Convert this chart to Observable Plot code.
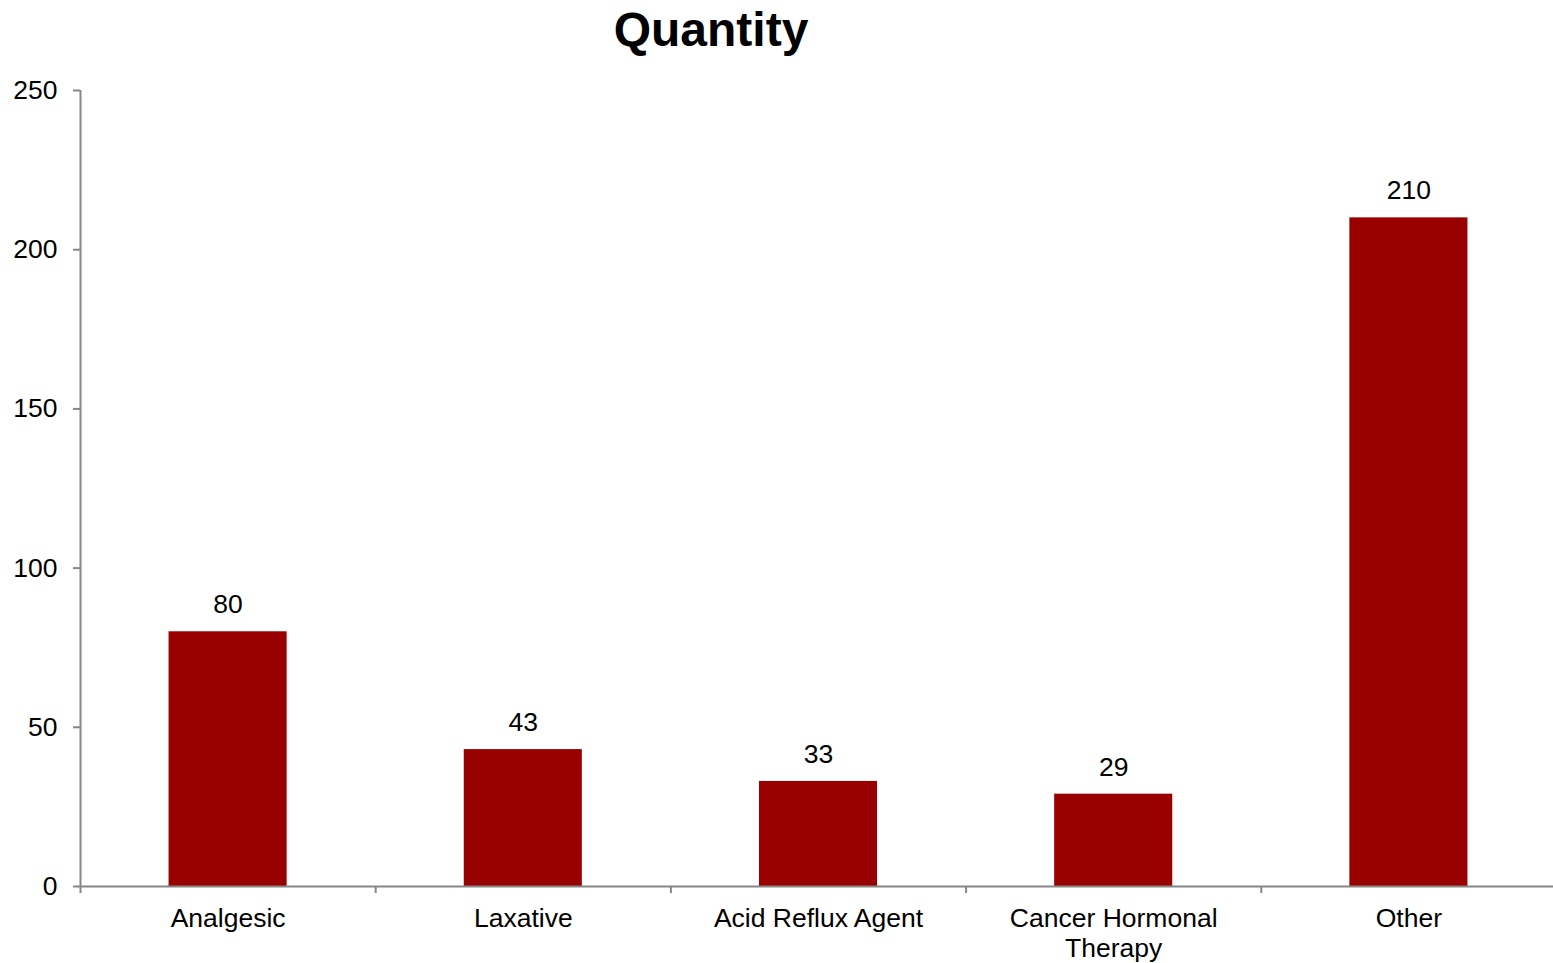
<!DOCTYPE html>
<html><head><meta charset="utf-8">
<script src="https://cdn.jsdelivr.net/npm/d3@7"></script>
<script src="https://cdn.jsdelivr.net/npm/@observablehq/plot@0.6"></script>
<style>
body{margin:0;background:#fff;font-family:"Liberation Sans",Arial,sans-serif;}
#wrap{position:relative;width:1553px;height:963px;overflow:hidden;}
#title{position:absolute;left:0;top:6px;width:1422px;text-align:center;font-size:48px;font-weight:bold;line-height:48px;color:#000;}
#chart{position:absolute;left:0;top:60px;width:1556px;}
</style></head><body>
<div id="wrap"><div id="title">Quantity</div><div id="chart"></div></div>
<script>
const categories = ["Analgesic", "Laxative", "Acid Reflux Agent", "Cancer Hormonal Therapy", "Other"];
const quantities = [80, 43, 33, 29, 210];
const yTicks = [0, 50, 100, 150, 200, 250];

const data = categories.map((c, i) => ({category: c, index: i, value: quantities[i]}));
const gray = "#868686";

const plot = Plot.plot({
  width: 1556, height: 903,
  marginTop: 30, marginBottom: 77, marginLeft: 80, marginRight: 0,
  style: {fontFamily: "'Liberation Sans', Arial, sans-serif", fontSize: "26.5px", color: "#000", background: "#fff", overflow: "visible", maxWidth: "none"},
  x: {type: "linear", domain: [0, categories.length]},
  y: {domain: [0, 250]},
  marks: [
    Plot.rectY(data, {x1: d => d.index + 0.3, x2: d => d.index + 0.7, y: "value", fill: "#990000"}),
    Plot.ruleX([0], {stroke: gray, strokeWidth: 2}),
    Plot.ruleY([0], {stroke: gray, strokeWidth: 2}),
    Plot.axisY({ticks: yTicks, tickSize: 7, tickPadding: 16, stroke: gray, strokeWidth: 2, label: null}),
    Plot.axisX({ticks: d3.range(categories.length + 1), tickSize: 7, tickFormat: () => "", stroke: gray, strokeWidth: 2, label: null}),
    Plot.axisX({ticks: data.map(d => d.index + 0.5), tickSize: 0, tickPadding: 19, tickFormat: t => categories[Math.round(t - 0.5)], lineWidth: 9, lineHeight: 1.13, label: null}),
    Plot.text(data, {x: d => d.index + 0.5, y: "value", text: d => String(d.value), dy: -27, fill: "#000"})
  ]
});
document.getElementById("chart").appendChild(plot);
</script>
</body></html>
